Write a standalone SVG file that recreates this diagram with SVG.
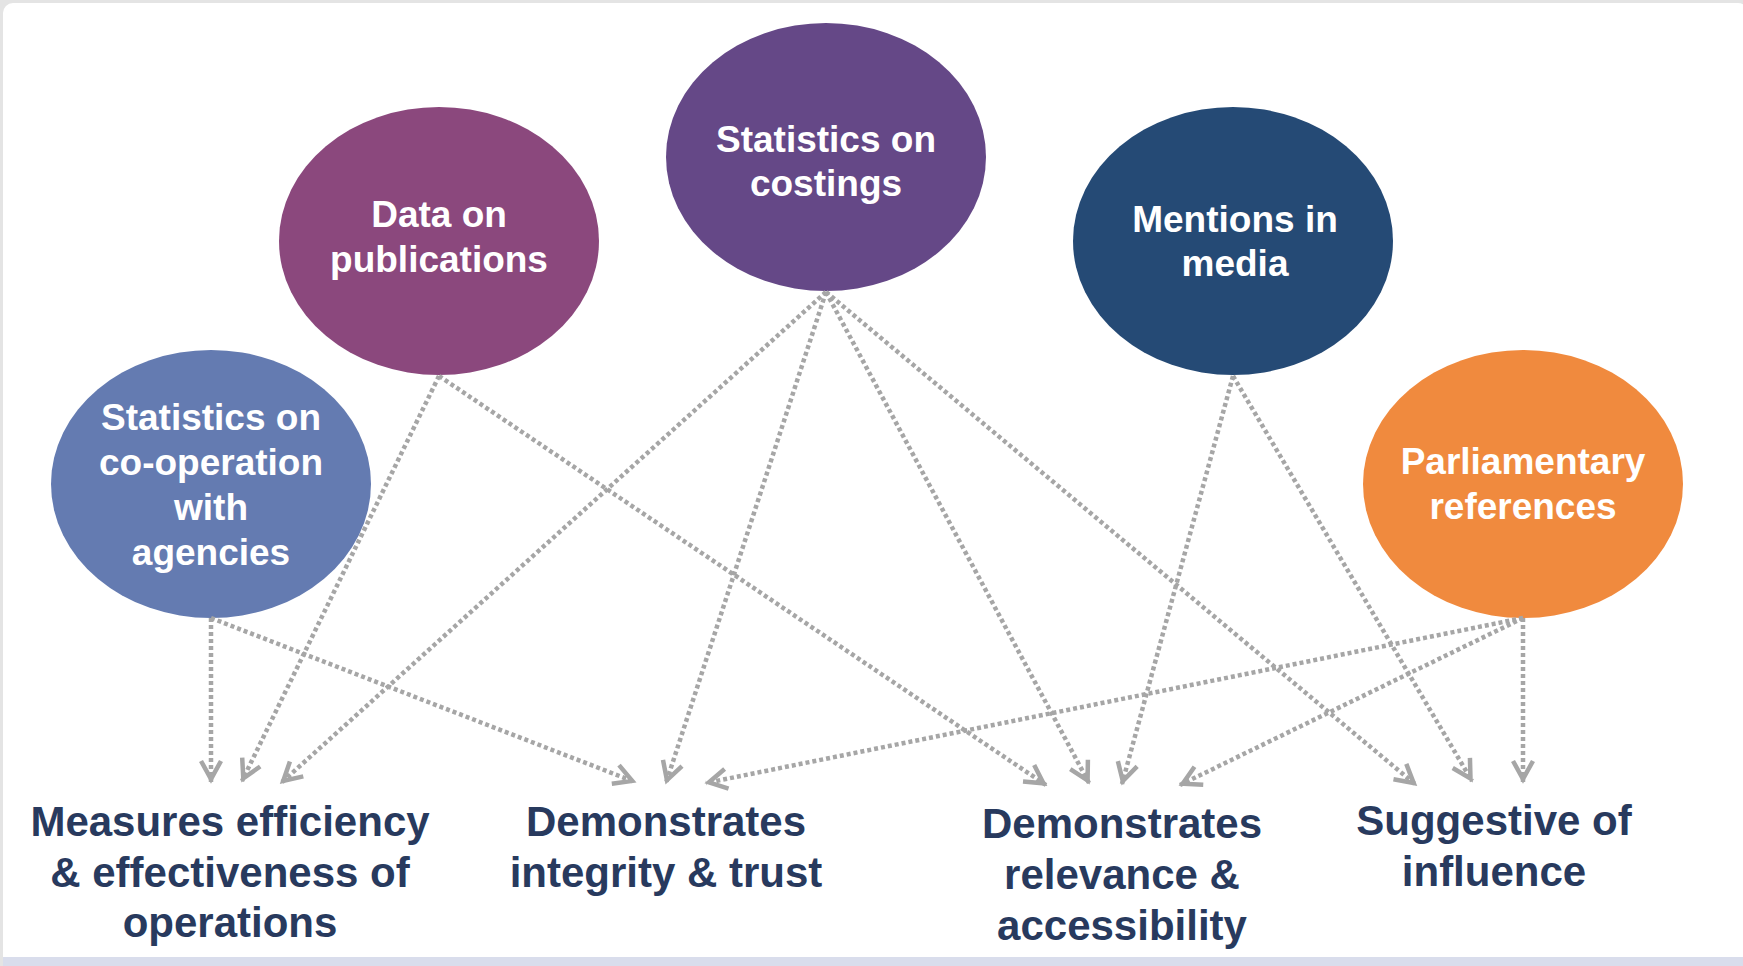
<svg xmlns="http://www.w3.org/2000/svg" width="1743" height="966" viewBox="0 0 1743 966">
  <defs>
    <style>
      .node-text { font-family: "Liberation Sans", Arial, sans-serif; font-weight: bold; font-size: 37px; fill: #FFFFFF; text-anchor: middle; }
      .out-text { font-family: "Liberation Sans", Arial, sans-serif; font-weight: bold; font-size: 42px; fill: #283A5E; text-anchor: middle; }
      .conn { stroke: #A6A6A6; stroke-width: 4.5; stroke-dasharray: 4 3; fill: none; marker-end: url(#chev); }
    </style>
    <marker id="chev" markerUnits="userSpaceOnUse" viewBox="-30 -20 40 40" markerWidth="40" markerHeight="40" refX="3" refY="0" orient="auto" overflow="visible">
      <path d="M-18,-10 L0,0 L-18,10" fill="none" stroke="#A6A6A6" stroke-width="4.5" stroke-dasharray="none" stroke-linejoin="miter"/>
    </marker>
  </defs>

  <rect x="0" y="0" width="1743" height="966" fill="#E4E4E4"/>
  <rect x="3" y="3" width="1745" height="970" rx="10" fill="#FFFFFF"/>
  <rect x="3" y="957" width="1740" height="9" fill="#D9DDEC"/>

  <g id="node-cooperation">
    <ellipse cx="211" cy="484" rx="160" ry="134" fill="#647BB1"/>
    <text class="node-text" x="211" y="430">Statistics on</text>
    <text class="node-text" x="211" y="475">co-operation</text>
    <text class="node-text" x="211" y="520">with</text>
    <text class="node-text" x="211" y="565">agencies</text>
  </g>
  <g id="node-publications">
    <ellipse cx="439" cy="241" rx="160" ry="134" fill="#8B487D"/>
    <text class="node-text" x="439" y="227">Data on</text>
    <text class="node-text" x="439" y="272">publications</text>
  </g>
  <g id="node-costings">
    <ellipse cx="826" cy="157" rx="160" ry="134" fill="#654887"/>
    <text class="node-text" x="826" y="152">Statistics on</text>
    <text class="node-text" x="826" y="196">costings</text>
  </g>
  <g id="node-media">
    <ellipse cx="1233" cy="241" rx="160" ry="134" fill="#254A75"/>
    <text class="node-text" x="1235" y="232">Mentions in</text>
    <text class="node-text" x="1235" y="276">media</text>
  </g>
  <g id="node-parliamentary">
    <ellipse cx="1523" cy="484" rx="160" ry="134" fill="#F08A3E"/>
    <text class="node-text" x="1523" y="474">Parliamentary</text>
    <text class="node-text" x="1523" y="519">references</text>
  </g>

  <g id="connectors">
    <line class="conn" x1="211" y1="618" x2="211" y2="782"/>
    <line class="conn" x1="211" y1="618" x2="635" y2="782"/>
    <line class="conn" x1="439" y1="376" x2="242" y2="781"/>
    <line class="conn" x1="439" y1="376" x2="1046" y2="785"/>
    <line class="conn" x1="826" y1="292" x2="281" y2="783"/>
    <line class="conn" x1="826" y1="292" x2="666" y2="783"/>
    <line class="conn" x1="826" y1="292" x2="1089" y2="783"/>
    <line class="conn" x1="826" y1="292" x2="1416" y2="785"/>
    <line class="conn" x1="1233" y1="376" x2="1122" y2="784"/>
    <line class="conn" x1="1233" y1="376" x2="1472" y2="781"/>
    <line class="conn" x1="1523" y1="618" x2="706" y2="783"/>
    <line class="conn" x1="1523" y1="618" x2="1180" y2="785"/>
    <line class="conn" x1="1523" y1="618" x2="1523" y2="782"/>
  </g>

  <g id="out-efficiency">
    <text class="out-text" x="230" y="836">Measures efficiency</text>
    <text class="out-text" x="230" y="887">&amp; effectiveness of</text>
    <text class="out-text" x="230" y="937">operations</text>
  </g>
  <g id="out-integrity">
    <text class="out-text" x="666" y="836">Demonstrates</text>
    <text class="out-text" x="666" y="887">integrity &amp; trust</text>
  </g>
  <g id="out-relevance">
    <text class="out-text" x="1122" y="838">Demonstrates</text>
    <text class="out-text" x="1122" y="889">relevance &amp;</text>
    <text class="out-text" x="1122" y="940">accessibility</text>
  </g>
  <g id="out-influence">
    <text class="out-text" x="1494" y="835">Suggestive of</text>
    <text class="out-text" x="1494" y="886">influence</text>
  </g>
</svg>
